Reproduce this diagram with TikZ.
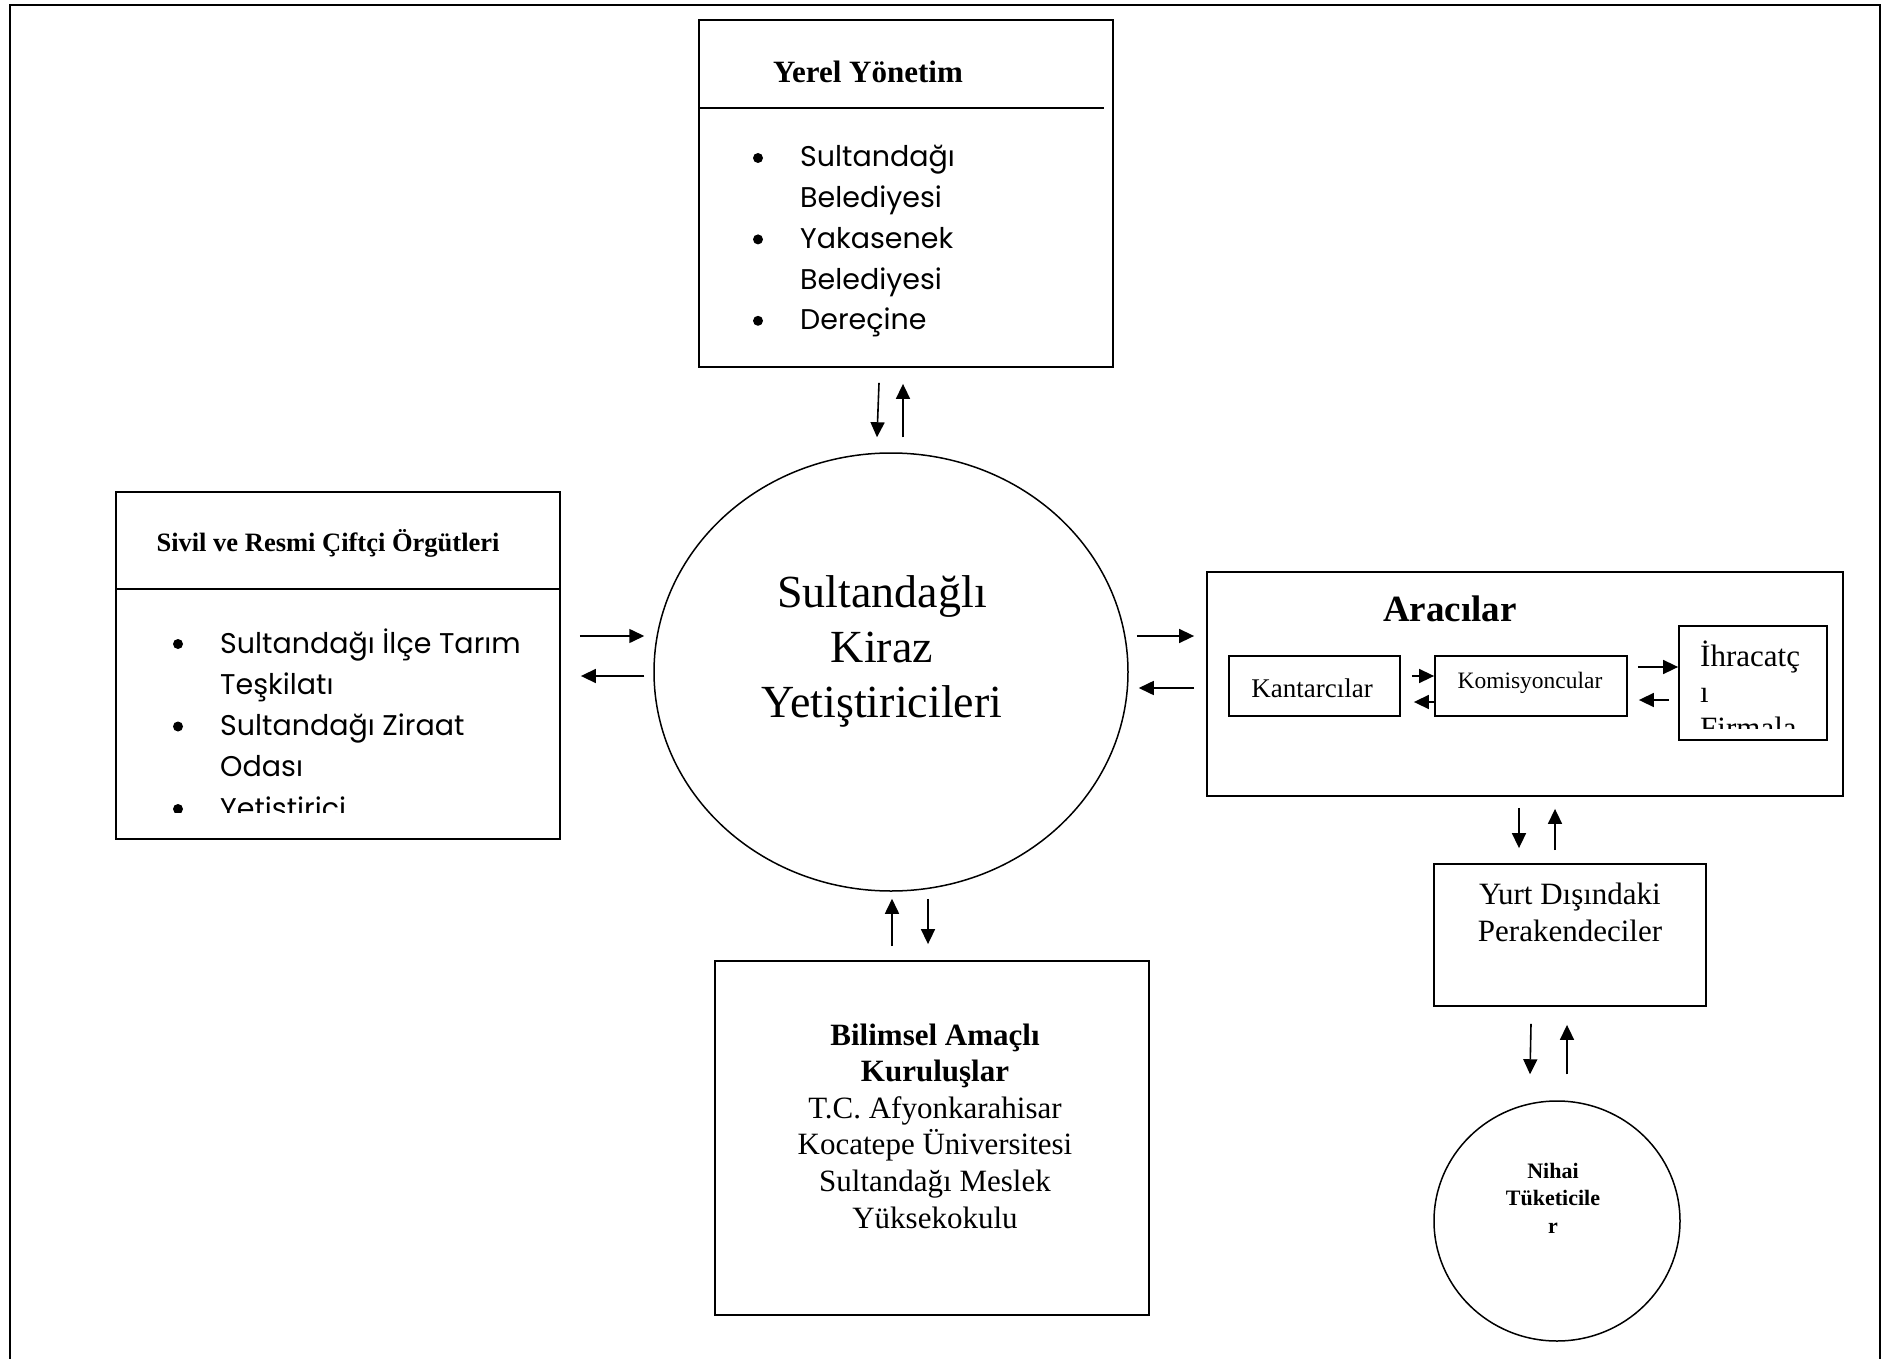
\documentclass[tikz,border=0pt]{standalone}
\usepackage{fontspec}
\setmainfont{Liberation Serif}
\newfontfamily\gothic{Poppins}
\usetikzlibrary{shapes.geometric,arrows.meta}

\tikzset{
  box/.style={draw, line width=1.8pt, rectangle, inner sep=0pt},
  arr/.style={line width=1.6pt, -{Triangle[length=15pt,width=14pt]}},
  lbl/.style={inner sep=0pt, anchor=base},
  item/.style={inner sep=0pt, anchor=base west, font=\gothic\fontsize{28.5}{41}\selectfont},
  dot/.style={circle, fill, inner sep=0pt, minimum size=10pt},
}

\begin{document}
\begin{tikzpicture}[x=1pt,y=-1pt]
\useasboundingbox (0,0) rectangle (1883,1359);
% page frame, open at the bottom
\draw[line width=2.5pt] (10,1359) -- (10,5) -- (1880,5) -- (1880,1359);

% boxes and circles
\node[box, minimum width=414pt, minimum height=347pt] (yerel) at (906,193.5) {};
\node[box, minimum width=444pt, minimum height=347pt] (sivil) at (338,665.5) {};
\node[draw, ellipse, line width=1.5pt, inner sep=0pt, minimum width=474pt, minimum height=438pt] (grow) at (891,672) {};
\node[box, minimum width=636pt, minimum height=224pt] (arac) at (1525,684) {};
\node[box, minimum width=171pt, minimum height=60pt] (kant) at (1314.5,686) {};
\node[box, minimum width=192pt, minimum height=60pt] (kom) at (1531,686) {};
\node[box, minimum width=148pt, minimum height=114pt] (ihr) at (1753,683) {};
\node[box, minimum width=272pt, minimum height=142pt] (yurt) at (1570,935) {};
\node[draw, ellipse, line width=1.5pt, inner sep=0pt, minimum width=246pt, minimum height=240pt] (nihai) at (1557,1221) {};
\node[box, minimum width=434pt, minimum height=354pt] (bil) at (932,1138) {};

% dividers
\draw[line width=1.8pt] ([yshift=-89pt]yerel.north west) -- ([xshift=-10pt,yshift=-89pt]yerel.north east);
\draw[line width=1.8pt] ([yshift=-98pt]sivil.north west) -- ([yshift=-98pt]sivil.north east);

% Yerel Yonetim
\node[lbl, font=\bfseries\fontsize{31}{37}\selectfont] (yerelT) at (868,83) {Yerel Yönetim};
\foreach \b/\t [count=\i from 0] in {1/Sultandağı,0/Belediyesi,1/Yakasenek,0/Belediyesi,1/Dereçine}{
  \node[item] (yerel-\i) at (800,167+40.7*\i) {\t};
  \ifnum\b=1 \node[dot] (yerelB-\i) at (758,158+40.7*\i) {}; \fi
}

% Sivil ve Resmi
\node[lbl, font=\bfseries\fontsize{26.5}{32}\selectfont] (sivilT) at (328,551) {Sivil ve Resmi Çiftçi Örgütleri};
\begin{scope}
\clip (117,591) rectangle (559,812);
\foreach \b/\t [count=\i from 0] in {1/Sultandağı İlçe Tarım,0/Teşkilatı,1/Sultandağı Ziraat,0/Odası,1/Yetiştirici}{
  \node[item] (sivil-\i) at (220,653+41.25*\i) {\t};
  \ifnum\b=1 \node[dot] (sivilB-\i) at (178,644+41.25*\i) {}; \fi
}
\end{scope}

% center
\foreach \t [count=\i from 0] in {Sultandağlı,Kiraz,Yetiştiricileri}
  \node[lbl, font=\fontsize{46}{55}\selectfont] (grow-\i) at (882,607+55*\i) {\t};

% Aracilar
\node[lbl, font=\bfseries\fontsize{37}{44}\selectfont] (aracT) at (1450,621) {Aracılar};
\node[lbl, font=\fontsize{27}{32}\selectfont] (kantT) at (1312,697) {Kantarcılar};
\node[lbl, font=\fontsize{23.5}{28}\selectfont] (komT) at (1530,688) {Komisyoncular};
\begin{scope}
\clip (1680,627) rectangle (1826,728);
\foreach \t [count=\i from 0] in {İhracatç,ı,Firmala}
  \node[lbl, anchor=base west, font=\fontsize{31}{36}\selectfont] (ihr-\i) at (1700,666+36*\i) {\t};
\end{scope}

% Yurt disi, nihai
\foreach \t [count=\i from 0] in {Yurt Dışındaki,Perakendeciler}
  \node[lbl, font=\fontsize{31}{37}\selectfont] (yurt-\i) at (1570,904+37*\i) {\t};
\foreach \t [count=\i from 0] in {Nihai,Tüketicile,r}
  \node[lbl, font=\bfseries\fontsize{22}{28}\selectfont] (nihai-\i) at (1553,1178+27.5*\i) {\t};

% Bilimsel
\foreach \f/\t [count=\i from 0] in {\bfseries/Bilimsel Amaçlı,\bfseries/Kuruluşlar,\mdseries/T.C. Afyonkarahisar,\mdseries/Kocatepe Üniversitesi,\mdseries/Sultandağı Meslek,\mdseries/Yüksekokulu}
  \node[lbl, font=\fontsize{31}{37}\selectfont] (bil-\i) at (935,1045+36.6*\i) {\f\t};

% arrows
\draw[arr] ([xshift=-27pt,yshift=-15pt]yerel.south) -- ([xshift=-14pt,yshift=15pt]grow.north);
\draw[arr] ([xshift=12pt,yshift=15pt]grow.north) -- ([xshift=-3pt,yshift=-16pt]yerel.south);
\draw[arr] ([xshift=19pt,yshift=29.5pt]sivil.east) -- ([xshift=-9pt,yshift=36pt]grow.west);
\draw[arr] ([xshift=-9pt,yshift=-4pt]grow.west) -- ([xshift=20pt,yshift=-10.5pt]sivil.east);
\draw[arr] ([xshift=8pt,yshift=36pt]grow.east) -- ([xshift=-12pt,yshift=48pt]arac.west);
\draw[arr] ([xshift=-12pt,yshift=-4pt]arac.west) -- ([xshift=10pt,yshift=-16pt]grow.east);
\draw[arr] ([xshift=11pt,yshift=10pt]kant.east) -- ([yshift=10pt]kom.west);
\draw[arr] ([yshift=-16pt]kom.west) -- ([xshift=13pt,yshift=-16pt]kant.east);
\draw[arr] ([xshift=10pt,yshift=19pt]kom.east) -- ([yshift=16pt]ihr.west);
\draw[arr] ([xshift=-9pt,yshift=-17pt]ihr.west) -- ([xshift=11pt,yshift=-14pt]kom.east);
\draw[arr] ([xshift=-6pt,yshift=-11pt]arac.south) -- ([xshift=-51pt,yshift=15pt]yurt.north);
\draw[arr] ([xshift=-15pt,yshift=13pt]yurt.north) -- ([xshift=30pt,yshift=-12pt]arac.south);
\draw[arr] ([xshift=-39pt,yshift=-17pt]yurt.south) -- ([xshift=-27pt,yshift=26pt]nihai.north);
\draw[arr] ([xshift=10pt,yshift=26pt]nihai.north) -- ([xshift=-3pt,yshift=-18pt]yurt.south);
\draw[arr] ([xshift=-40pt,yshift=14pt]bil.north) -- ([xshift=1pt,yshift=-7pt]grow.south);
\draw[arr] ([xshift=37pt,yshift=-7pt]grow.south) -- ([xshift=-4pt,yshift=16pt]bil.north);
\end{tikzpicture}
\end{document}
